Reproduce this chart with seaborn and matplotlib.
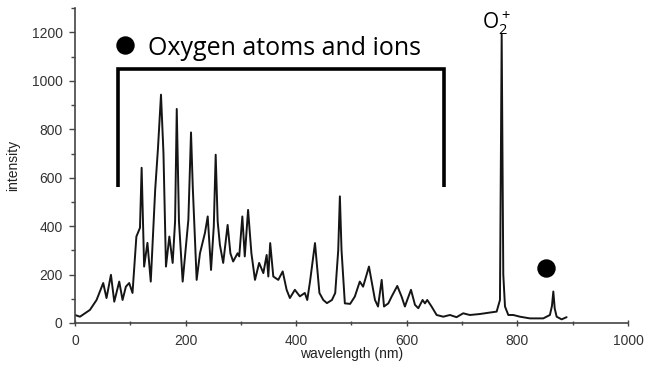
import numpy as np
import pandas as pd
import matplotlib
matplotlib.use('Agg')
import matplotlib.pyplot as plt
import seaborn as sns
from matplotlib.ticker import MultipleLocator

# spectrum (wavelength nm, intensity)
wavelength = [0, 9, 27, 39, 51, 57, 65, 71, 80, 86, 92, 98, 104, 111, 117.5, 120.5,
              125, 131, 137, 145, 150, 155.5, 160, 164.5, 170.6, 176.6, 181, 184, 188, 194.7,
              205, 209.8, 213, 220, 226, 235, 240, 246, 251, 254.4, 258, 262, 268, 276,
              281, 286, 294, 297, 302.6, 307, 313, 319, 325.5, 333, 340.6, 346.6, 349.6,
              353, 358.6, 367.6, 375.6, 382.7, 388.6, 397.6, 406.6, 415.6, 420, 425, 434,
              442, 449, 455.6, 464.6, 470.6, 476, 479, 482, 488, 497.6, 506, 515, 521,
              531.6, 542.5, 548, 554.6, 558.8, 566.6, 572.6, 582.8, 590.6, 596.6, 600.8,
              607.6, 614.8, 620.8, 628.6, 632.8, 637, 644.8, 654, 666, 678, 690, 702, 714,
              732, 750, 762.5, 768.5, 771.6, 774.5, 777.6, 783.6, 792.6, 804.6, 822.7,
              846.8, 858.8, 862.5, 865, 867.5, 871, 880, 889]
intensity = [33, 26, 54, 95, 165, 103, 199, 88, 171, 95, 150, 165, 124, 357, 393, 641,
             233, 331, 171, 550, 720, 943, 700, 233, 357, 248, 420, 884, 420, 171,
             426, 787, 560, 178, 288, 372, 440, 219, 400, 695, 420, 323, 248, 405,
             288, 254, 288, 275, 440, 275, 467, 288, 178, 248, 206, 281, 192,
             330, 192, 178, 213, 137, 103, 137, 110, 124, 95, 171, 330,
             124, 95, 82, 95, 124, 300, 523, 300, 81, 79, 109, 171, 150,
             233, 95, 68, 178, 68, 81, 109, 153, 109, 68, 95,
             137, 75, 61, 95, 81, 95, 68, 33, 26, 33, 24, 40, 33,
             37, 43, 47, 95, 1192, 200, 68, 33, 33, 26, 19,
             19, 33, 70, 130, 60, 26, 15, 24]

xticks = [0, 200, 400, 600, 800, 1000]
yticks = [0, 200, 400, 600, 800, 1000, 1200]

# annotation bracket / markers (data coordinates)
bracket_x = [78, 78, 668, 668]
bracket_y = [563, 1047, 1047, 563]
dot_x = [90, 851]
dot_y = [1150, 229]

df = pd.DataFrame({'wavelength': wavelength, 'intensity': intensity})

sns.set_style('ticks')
plt.rcParams['font.family'] = ['Liberation Sans', 'DejaVu Sans']

fig = plt.figure(figsize=(6.46, 3.69), dpi=100)
ax = fig.add_axes([0.1161, 0.1247, 0.856, 0.853])

sns.lineplot(data=df, x='wavelength', y='intensity', ax=ax, color='#151515',
             linewidth=1.4, sort=False, estimator=None)

ax.plot(bracket_x, bracket_y, color='black', linewidth=2.6,
        solid_joinstyle='miter', solid_capstyle='butt')
ax.scatter(dot_x, dot_y, s=150, color='black', zorder=5)
ax.text(132, 1135, 'Oxygen atoms and ions', fontsize=18, family=['Open Sans'],
        va='center', ha='left', color='black')
ax.text(762, 1240, r'$\mathregular{O_2^+}$', fontsize=15, family=['Open Sans'],
        va='center', ha='center', color='black')

ax.set_xlim(0, 1000)
ax.set_ylim(0, 1300)
ax.set_xticks(xticks)
ax.set_yticks(yticks)
ax.xaxis.set_minor_locator(MultipleLocator(100))
ax.yaxis.set_minor_locator(MultipleLocator(100))
ax.tick_params(axis='both', which='major', labelsize=10, labelcolor='#333333',
               length=4, width=1, color='#444444')
ax.tick_params(axis='both', which='minor', length=3, width=1, color='#444444')
ax.tick_params(axis='x', which='both', direction='inout', pad=6)
ax.tick_params(axis='y', which='major', pad=5)
ax.set_xlabel('wavelength (nm)', fontsize=10, color='#222222', labelpad=-1)
ax.set_ylabel('intensity', fontsize=10, color='#222222', labelpad=8)
for s in ['left', 'bottom']:
    ax.spines[s].set_color('#444444')
    ax.spines[s].set_linewidth(1.2)
sns.despine(ax=ax)

fig.savefig('out.png', dpi=100)
